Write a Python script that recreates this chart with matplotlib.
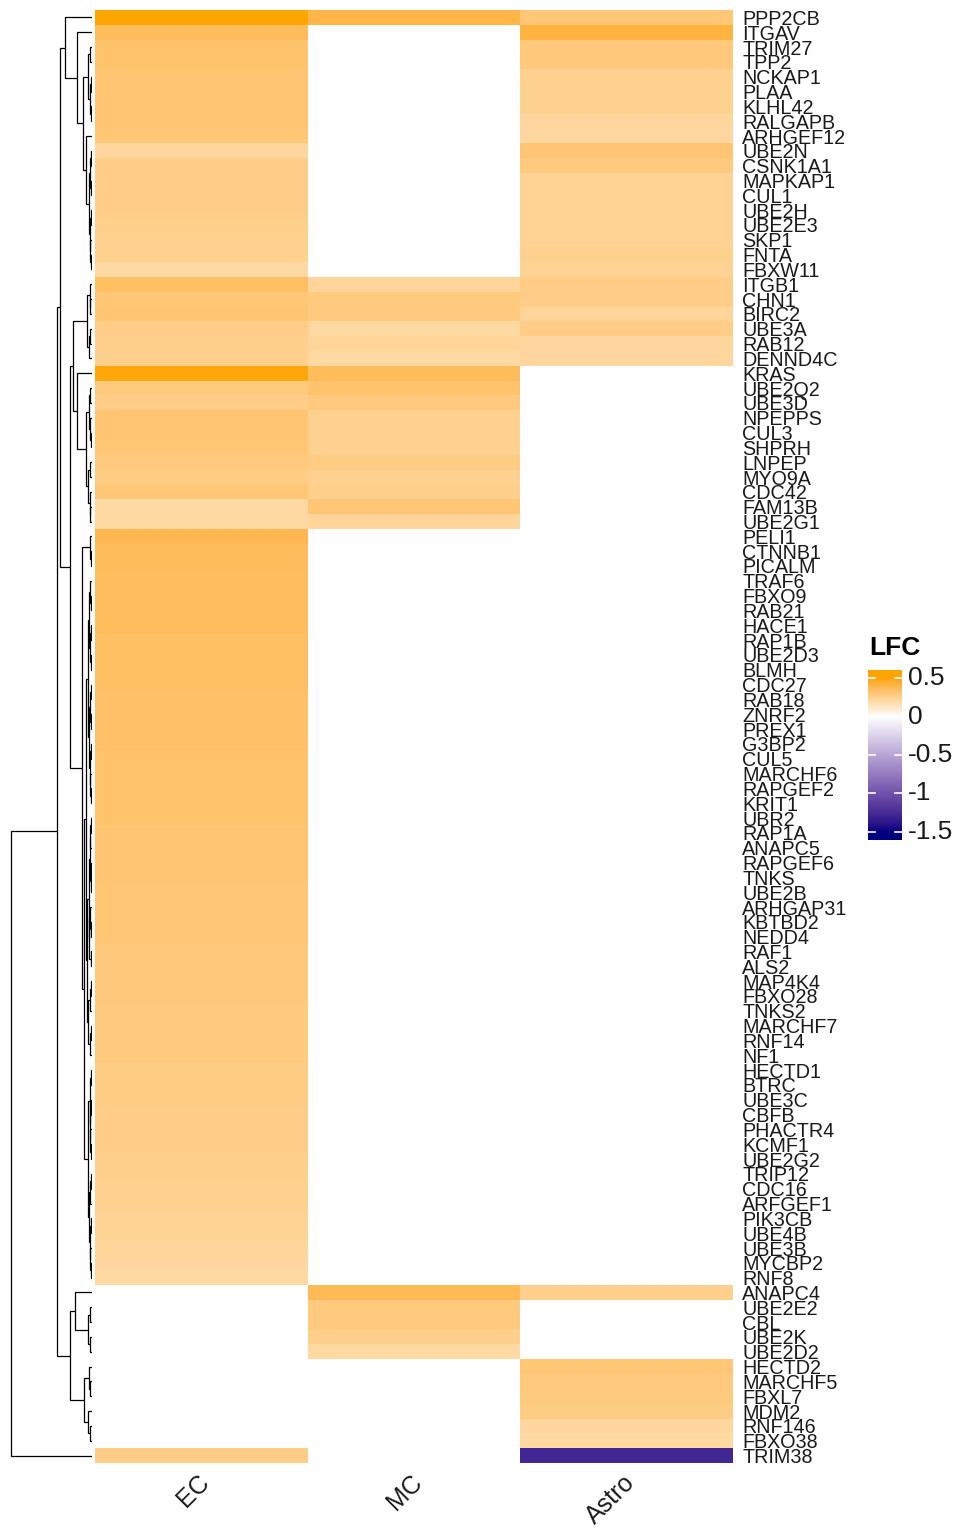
import numpy as np
import matplotlib
matplotlib.use("Agg")
import matplotlib.pyplot as plt
import matplotlib.transforms as mtransforms
from matplotlib.colors import ListedColormap, Normalize

plt.rcParams['font.family'] = ['Liberation Sans', 'DejaVu Sans']

genes = ["PPP2CB", "ITGAV", "TRIM27", "TPP2", "NCKAP1", "PLAA", "KLHL42", "RALGAPB",
         "ARHGEF12", "UBE2N", "CSNK1A1", "MAPKAP1", "CUL1", "UBE2H", "UBE2E3", "SKP1",
         "FNTA", "FBXW11", "ITGB1", "CHN1", "BIRC2", "UBE3A", "RAB12", "DENND4C",
         "KRAS", "UBE2Q2", "UBE3D", "NPEPPS", "CUL3", "SHPRH", "LNPEP", "MYO9A",
         "CDC42", "FAM13B", "UBE2G1", "PELI1", "CTNNB1", "PICALM", "TRAF6", "FBXO9",
         "RAB21", "HACE1", "RAP1B", "UBE2D3", "BLMH", "CDC27", "RAB18", "ZNRF2",
         "PREX1", "G3BP2", "CUL5", "MARCHF6", "RAPGEF2", "KRIT1", "UBR2", "RAP1A",
         "ANAPC5", "RAPGEF6", "TNKS", "UBE2B", "ARHGAP31", "KBTBD2", "NEDD4", "RAF1",
         "ALS2", "MAP4K4", "FBXO28", "TNKS2", "MARCHF7", "RNF14", "NF1", "HECTD1",
         "BTRC", "UBE3C", "CBFB", "PHACTR4", "KCMF1", "UBE2G2", "TRIP12", "CDC16",
         "ARFGEF1", "PIK3CB", "UBE4B", "UBE3B", "MYCBP2", "RNF8", "ANAPC4", "UBE2E2",
         "CBL", "UBE2K", "UBE2D2", "HECTD2", "MARCHF5", "FBXL7", "MDM2", "RNF146",
         "FBXO38", "TRIM38"]
cell_types = ["EC", "MC", "Astro"]

na = np.nan
lfc_ec = [0.52, 0.37, 0.33, 0.33, 0.32, 0.32, 0.32, 0.32, 0.31, 0.22, 0.27, 0.27,
          0.27, 0.27, 0.26, 0.25, 0.25, 0.21, 0.35, 0.31, 0.32, 0.27, 0.26, 0.26,
          0.49, 0.29, 0.27, 0.32, 0.32, 0.31, 0.29, 0.28, 0.31, 0.21, 0.21, 0.39,
          0.37, 0.37, 0.36, 0.36, 0.36, 0.36, 0.35, 0.35, 0.35, 0.35,
          0.34, 0.34, 0.34, 0.34, 0.33, 0.33, 0.33, 0.33, 0.33, 0.32,
          0.32, 0.32, 0.32, 0.31, 0.31, 0.31, 0.31, 0.30, 0.30, 0.30,
          0.30, 0.29, 0.29, 0.29, 0.29, 0.28, 0.28, 0.28, 0.27, 0.27,
          0.27, 0.26, 0.26, 0.25, 0.25, 0.24, 0.24, 0.23, 0.22, 0.21,
          na, na, na, na, na, na, na, na, na, na, na, 0.27]
lfc_mc = ([0.41] + [na] * 17 +
          [0.23, 0.29, 0.29, 0.21, 0.23, 0.21,
           0.37, 0.33, 0.29, 0.25, 0.25, 0.25, 0.28, 0.25, 0.26, 0.31, 0.23] +
          [na] * 51 +
          [0.38, 0.29, 0.29, 0.26, 0.21] + [na] * 7)
lfc_astro = ([0.31, 0.42, 0.30, 0.30, 0.25, 0.25, 0.25, 0.22, 0.22, 0.32, 0.29, 0.24,
              0.24, 0.24, 0.24, 0.24, 0.25, 0.24, 0.27, 0.27, 0.23, 0.27, 0.22, 0.22] +
             [na] * 62 + [0.26] + [na] * 4 +
             [0.31, 0.29, 0.29, 0.28, 0.22, 0.21, -1.28])

# row dendrogram: [height, left, right], leaves are row indices
top_block = [0.33, 0, [0.18, 1, [0.11,
             [0.05, [0.02, 2, 3], [0.03, [0.01, 4, 5], [0.015, 6, 7]]],
             [0.07, 8, [0.04, [0.02, [0.01, 9, 10], [0.015, 11, 12]],
                        [0.025, [0.01, 13, 14], [0.02, 15, [0.01, 16, 17]]]]]]]]
mid_block = [0.23, [0.06, [0.03, 18, [0.02, 19, 20]], [0.035, [0.02, 21, 22], 23]],
             [0.18, 24, [0.07, [0.04, [0.02, 25, 26], [0.03, 27, [0.015, 28, 29]]],
                         [0.05, [0.025, 30, 31], [0.03, 32, [0.02, 33, 34]]]]]]
ec_upper = [0.07,
            [0.05, [0.04, [0.02, 38, [0.01, 39, 40]], [0.025, [0.01, 41, 42], [0.015, 43, 44]]],
             [0.035, [0.02, [0.01, 45, 46], [0.015, 47, 48]],
              [0.03, [0.01, 49, 50], [0.02, 51, [0.01, 52, 53]]]]],
            [0.06, [0.04, [0.03, [0.02, [0.01, 54, 55], 56], [0.015, [0.01, 57, 58], 59]],
                    [0.035, [0.02, 60, [0.01, 61, 62]], [0.015, 63, 64]]],
             [0.045, [0.02, [0.01, 65, 66], 67], [0.03, [0.015, 68, 69], 70]]]]
ec_lower = [0.05, [0.03, [0.01, 71, 72], [0.02, [0.015, 73, 74], [0.02, 75, [0.01, 76, 77]]]],
            [0.035, [0.02, [0.01, 78, 79], 80],
             [0.025, [0.015, 81, 82], [0.02, 83, [0.01, 84, 85]]]]]
ec_block = [0.12, [0.03, 35, [0.015, 36, 37]], [0.10, ec_upper, ec_lower]]
low_block = [0.27, [0.21, 86, [0.05, [0.02, 87, 88], [0.03, 89, 90]]],
             [0.10, [0.04, 91, [0.02, 92, 93]], [0.05, 94, [0.02, 95, 96]]]]
tree = [0.99, [0.43, [0.39, top_block, [0.27, mid_block, ec_block]], low_block], 97]


def to_lab(rgb):
    c = np.asarray(rgb, float)
    lin = np.where(c <= 0.04045, c / 12.92, ((c + 0.055) / 1.055) ** 2.4)
    xyz = M @ lin / WP
    f = np.where(xyz > 0.008856, np.cbrt(xyz), 7.787 * xyz + 16 / 116)
    return np.array([116 * f[1] - 16, 500 * (f[0] - f[1]), 200 * (f[1] - f[2])])


def from_lab(lab):
    fy = (lab[0] + 16) / 116
    f = np.array([fy + lab[1] / 500, fy, fy - lab[2] / 200])
    xyz = np.where(f ** 3 > 0.008856, f ** 3, (f - 16 / 116) / 7.787) * WP
    lin = np.clip(np.linalg.solve(M, xyz), 0, 1)
    c = np.where(lin <= 0.0031308, 12.92 * lin, 1.055 * lin ** (1 / 2.4) - 0.055)
    return np.clip(c, 0, 1)


M = np.array([[0.4124, 0.3576, 0.1805], [0.2126, 0.7152, 0.0722], [0.0193, 0.1192, 0.9505]])
WP = np.array([0.95047, 1.0, 1.08883])

# colorRamp2(c(-1.5, 0, 0.5), c("navy", "white", "orange")) in LAB space
lab_navy = to_lab([0, 0, 128 / 255])
lab_white = to_lab([1, 1, 1])
lab_orange = to_lab([1, 165 / 255, 0])
vmin, vmax = -1.5, 0.5
cols = []
for v in np.linspace(vmin, vmax, 512):
    if v < 0:
        t = v / vmin
        cols.append(from_lab((1 - t) * lab_white + t * lab_navy))
    else:
        t = v / vmax
        cols.append(from_lab((1 - t) * lab_white + t * lab_orange))
cmap = ListedColormap(cols)
norm = Normalize(vmin, vmax, clip=True)

mat = np.array([lfc_ec, lfc_mc, lfc_astro], dtype=float).T
n = len(genes)

W, H = 963, 1528
fig = plt.figure(figsize=(W / 100, H / 100), dpi=100)


def px_axes(x0, y0, x1, y1):
    return fig.add_axes([x0 / W, 1 - y1 / H, (x1 - x0) / W, (y1 - y0) / H])


# heatmap
ax = px_axes(95, 10, 733, 1463)
ax.pcolormesh(np.arange(4), np.arange(n + 1), np.ma.masked_invalid(mat),
              cmap=cmap, norm=norm, edgecolors='none')
ax.set_xlim(0, 3)
ax.set_ylim(n, 0)
for s in ax.spines.values():
    s.set_visible(False)
ax.yaxis.tick_right()
ax.set_yticks(np.arange(n) + 0.5)
ax.set_yticklabels(genes, fontsize=14.2, color='#1a1a1a')
ax.tick_params(axis='y', length=0, pad=6.5)
ax.set_xticks(np.arange(3) + 0.5)
ax.set_xticklabels(cell_types, fontsize=18, color='#1a1a1a')
ax.tick_params(axis='x', length=0, pad=3)
shift = mtransforms.ScaledTranslation(-4 / 100, -3 / 100, fig.dpi_scale_trans)
for lbl in ax.get_xticklabels():
    lbl.set_rotation(45)
    lbl.set_ha('right')
    lbl.set_va('top')
    lbl.set_rotation_mode('anchor')
    lbl.set_transform(lbl.get_transform() + shift)

# dendrogram
dax = px_axes(10, 10, 92, 1463)
dax.set_ylim(n, 0)
dax.set_xlim(1.0, 0)
dax.axis('off')


def draw(node):
    if not isinstance(node, list):
        return node + 0.5, 0.0
    h, left, right = node
    yl, hl = draw(left)
    yr, hr = draw(right)
    dax.plot([hl, h, h, hr], [yl, yl, yr, yr], color='black', lw=0.9,
             solid_joinstyle='miter', solid_capstyle='butt')
    return (yl + yr) / 2, h


draw(tree)

# legend
pad = 0.104
cax = px_axes(868, 670, 902, 840)
grad = np.linspace(vmax + pad, vmin - pad, 300)[:, None]
cax.imshow(grad, aspect='auto', cmap=cmap, norm=norm,
           extent=[0, 1, vmin - pad, vmax + pad])
cax.set_ylim(vmin - pad, vmax + pad)
cax.set_xlim(0, 1)
cax.axis('off')
ticks = [0.5, 0, -0.5, -1, -1.5]
for t in ticks:
    cax.plot([0, 0.2], [t, t], color='white', lw=1.2)
    cax.plot([0.8, 1], [t, t], color='white', lw=1.2)
    cax.text(1.18, t, '%g' % t, transform=cax.transData, fontsize=19,
             ha='left', va='center', color='#1a1a1a', clip_on=False)
fig.text(869 / W, 1 - 648 / H, "LFC", fontsize=19, fontweight='bold', ha='left', va='center')

fig.savefig("out.png", dpi=100)
